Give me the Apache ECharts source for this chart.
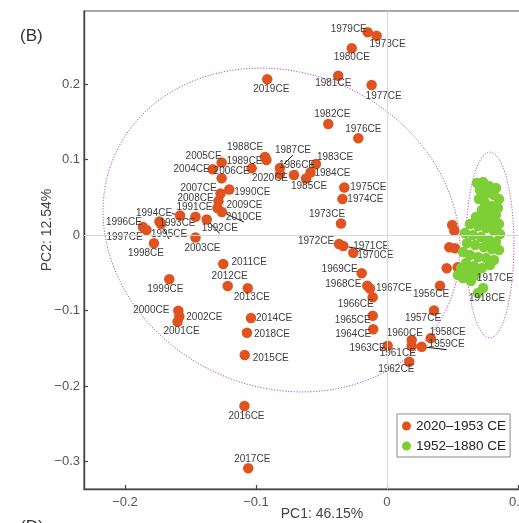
<!DOCTYPE html>
<html>
<head>
<meta charset="utf-8">
<script src="https://cdn.jsdelivr.net/npm/echarts@6/dist/echarts.min.js"></script>
<style>
  html, body { margin: 0; padding: 0; background: #fff; }
  #chart { width: 519px; height: 523px; }
</style>
</head>
<body>
<div id="chart"></div>
<script>
// PCA scores: PC1 vs PC2, annual samples 2020–1953 CE and 1952–1880 CE
const lateYears = ['2020CE','2019CE','2018CE','2017CE','2016CE','2015CE','2014CE','2013CE','2012CE','2011CE',
  '2010CE','2009CE','2008CE','2007CE','2006CE','2005CE','2004CE','2003CE','2002CE','2001CE',
  '2000CE','1999CE','1998CE','1997CE','1996CE','1995CE','1994CE','1993CE','1992CE','1991CE',
  '1990CE','1989CE','1988CE','1987CE','1986CE','1985CE','1984CE','1983CE','1982CE','1981CE',
  '1980CE','1979CE','1978CE','1977CE','1976CE','1975CE','1974CE','1973CE','1972CE','1971CE',
  '1970CE','1969CE','1968CE','1967CE','1966CE','1965CE','1964CE','1963CE','1962CE','1961CE',
  '1960CE','1959CE','1958CE','1957CE','1956CE','','','','','','',''];
const latePC1 = [-0.0817,-0.0914,-0.1069,-0.1059,-0.1088,-0.1086,-0.1038,-0.1063,-0.1216,-0.1250,
  -0.1260,-0.1294,-0.1286,-0.1271,-0.1033,-0.1262,-0.1331,-0.1462,-0.1585,-0.1599,
  -0.1593,-0.1662,-0.1779,-0.1836,-0.1863,-0.1725,-0.1580,-0.1737,-0.1376,-0.1462,
  -0.1204,-0.0920,-0.0931,-0.0817,-0.0710,-0.0618,-0.0584,-0.0542,-0.0448,-0.0372,
  -0.0269,-0.0147,-0.0079,-0.0117,-0.0219,-0.0326,-0.0340,-0.0351,-0.0366,-0.0334,
  -0.0257,-0.0193,-0.0150,-0.0130,-0.0109,-0.0109,-0.0105,0.0005,0.0170,0.0189,
  0.0189,0.0265,0.0334,0.0359,0.0405,-0.1262,0.0498,0.0514,0.0476,0.0519,0.0456,0.0540];
const latePC2 = [0.0808,0.2062,-0.1294,-0.3090,-0.2265,-0.1589,-0.1099,-0.0706,-0.0675,-0.0384,
  0.0305,0.0358,0.0450,0.0550,0.0883,0.0960,0.0870,-0.0033,-0.1079,-0.1148,
  -0.1003,-0.0587,-0.0110,0.0066,0.0106,0.0146,0.0258,0.0179,0.0205,0.0242,
  0.0603,0.0993,0.1033,0.0887,0.0795,0.0748,0.0828,0.0940,0.1470,0.2110,
  0.2473,0.2685,0.2640,0.1987,0.1281,0.0629,0.0477,0.0152,-0.0119,-0.0146,
  -0.0234,-0.0507,-0.0672,-0.0709,-0.0825,-0.1069,-0.1249,-0.1466,-0.1678,-0.1470,
  -0.1391,-0.1479,-0.1368,-0.1000,-0.0672,0.0751,0.0132,0.0060,-0.0163,-0.0176,-0.0441,-0.0428];

const earlyLabels = ['','','','','','','','','','','','','','','','','','','','',
  '','','','','','','','','','','','','','','','','','','','','','',
  '1917CE','','','','','','','1918CE'];
const earlyPC1 = [0.0687,0.0733,0.0779,0.0832,0.0710,0.0756,0.0817,0.0855,0.0702,0.0748,
  0.0802,0.0847,0.0725,0.0779,0.0832,0.0679,0.0740,0.0802,0.0855,0.0634,
  0.0695,0.0756,0.0817,0.0863,0.0595,0.0656,0.0718,0.0779,0.0832,0.0611,
  0.0672,0.0740,0.0802,0.0855,0.0580,0.0634,0.0695,0.0756,0.0817,0.0603,
  0.0664,0.0725,0.0786,0.0565,0.0618,0.0679,0.0580,0.0641,0.0542,0.0733,0.0695];
const earlyPC2 = [0.0689,0.0702,0.0649,0.0623,0.0596,0.0543,0.0530,0.0477,0.0477,0.0424,
  0.0384,0.0358,0.0331,0.0291,0.0265,0.0238,0.0212,0.0172,0.0146,0.0146,
  0.0119,0.0093,0.0053,0.0013,0.0026,0.0000,-0.0026,-0.0066,-0.0093,-0.0106,
  -0.0132,-0.0159,-0.0185,-0.0199,-0.0225,-0.0265,-0.0291,-0.0305,-0.0331,-0.0371,
  -0.0411,-0.0437,-0.0397,-0.0437,-0.0490,-0.0530,-0.0570,-0.0609,-0.0530,-0.0702,-0.0768];

// Group envelopes: centre PC1, centre PC2, semi-axis a (PC1 units), semi-axis b (PC2 units), tilt (deg, clockwise on screen)
const envelopes = [
  [-0.0805, 0.0066, 0.1396, 0.2079, 25],
  [0.0786, -0.0132, 0.0183, 0.1230, 0]
];

const seriesNames = ['2020\u20131953 CE', '1952\u20131880 CE'];
const xTicks = [-0.2, -0.1, 0, 0.1];
const yTicks = [-0.3, -0.2, -0.1, 0, 0.1, 0.2];

// Label placement (px offset of label centre from the dot)
const labelOffsets = {
  '1979CE': [-19, -3], '1978CE': [11, 9], '1980CE': [0, 9], '1981CE': [-5, 8], '1977CE': [12, 11],
  '2019CE': [4, 10], '1982CE': [4, -10], '1976CE': [5, -9], '1983CE': [19, -7], '1984CE': [22, 1],
  '1985CE': [3, 8], '1986CE': [3, -10], '1987CE': [13, -18], '2020CE': [-10, 4], '1988CE': [-20, -10],
  '1989CE': [-22, 1], '2005CE': [-18, -6], '2004CE': [-21, 0], '2006CE': [-20, 3], '1990CE': [23, 3],
  '2007CE': [-22, -5], '2008CE': [-23, -3], '2009CE': [27, -3], '2010CE': [22, 5], '1991CE': [-1, -9],
  '1992CE': [13, 9], '1994CE': [-26, -2], '1993CE': [18, 2], '1995CE': [8, 10], '1996CE': [-19, -5],
  '1997CE': [-22, 7], '1998CE': [-8, 10], '2003CE': [7, 11], '2011CE': [26, -2], '2012CE': [2, -10],
  '2013CE': [4, 9], '1999CE': [-4, 10], '2000CE': [-27, 0], '2002CE': [25, 1], '2001CE': [4, 10],
  '2014CE': [23, 0], '2018CE': [25, 2], '2015CE': [26, 3], '2016CE': [2, 10], '2017CE': [4, -9],
  '1975CE': [24, 0], '1974CE': [23, 0], '1973CE': [-14, -9], '1972CE': [-23, -3], '1971CE': [28, 0],
  '1970CE': [22, 3], '1969CE': [-22, -4], '1968CE': [-24, -1], '1967CE': [24, 0], '1966CE': [-17, 7],
  '1965CE': [-20, 5], '1964CE': [-20, 5], '1963CE': [-20, 3], '1960CE': [-7, -7], '1961CE': [-14, 7],
  '1962CE': [-13, 8], '1959CE': [25, -2], '1958CE': [17, -6], '1957CE': [-11, 8], '1956CE': [-9, 9],
  '1917CE': [5, 13], '1918CE': [4, 10]
};
const leaderLabels = ['1988CE', '1987CE', '1986CE', '2007CE', '2010CE', '1994CE', '1992CE', '1995CE', '1971CE', '1959CE'];

const ORANGE = '#e0531f';
const GREEN = '#7dcf35';
const ENVELOPE = '#b64ac8';
const FONT = 'Liberation Sans, Arial, sans-serif';

function pointItems(names, xs, ys) {
  return xs.map((x, i) => {
    const name = names[i];
    const item = { name: name, value: [x, ys[i]] };
    if (name) {
      item.label = { show: true, offset: labelOffsets[name] || [0, 10] };
      if (leaderLabels.includes(name)) {
        item.labelLine = { show: true, lineStyle: { color: '#111', width: 1 } };
      }
    }
    return item;
  });
}

const pointLabel = {
  show: false, position: 'inside', formatter: '{b}',
  fontSize: 10, color: '#3c3c3c', fontFamily: FONT
};

function renderEnvelope(params, api) {
  const c = api.coord([api.value(0), api.value(1)]);
  const s = api.size([api.value(2), api.value(3)]);
  const tilt = api.value(4) * Math.PI / 180;
  const pts = [];
  const n = 180;
  for (let i = 0; i <= n; i++) {
    const t = i / n * Math.PI * 2;
    const ex = s[0] * Math.cos(t), ey = s[1] * Math.sin(t);
    pts.push([c[0] + ex * Math.cos(tilt) - ey * Math.sin(tilt),
              c[1] + ex * Math.sin(tilt) + ey * Math.cos(tilt)]);
  }
  return {
    type: 'polyline', shape: { points: pts },
    style: { stroke: ENVELOPE, lineWidth: 1, fill: null, lineDash: [1.2, 1.6] }
  };
}

const tickFmt = v => (Math.abs(v) < 1e-9 ? '0' : v.toFixed(1).replace('-', '\u2212'));

const chart = echarts.init(document.getElementById('chart'), null, { renderer: 'canvas' });
chart.setOption({
  animation: false,
  backgroundColor: '#fff',
  textStyle: { fontFamily: FONT },
  grid: {
    left: 84, top: 11, width: 454, bottom: 34,
    outerBoundsMode: 'none', containLabel: false,
    show: true, borderColor: '#555', borderWidth: 1.2, backgroundColor: 'transparent'
  },
  xAxis: {
    type: 'value', min: -0.2313, max: 0.1153,
    axisLine: { show: true, onZero: false, lineStyle: { color: '#444', width: 1.4 } },
    axisTick: { show: true, inside: true, length: 4, customValues: xTicks, lineStyle: { color: '#444', width: 1.2 } },
    axisLabel: { show: true, customValues: xTicks, formatter: tickFmt, fontSize: 13, color: '#555', margin: 7, fontFamily: FONT },
    splitLine: { show: false }
  },
  yAxis: {
    type: 'value', min: -0.3364, max: 0.2967,
    axisLine: { show: true, onZero: false, lineStyle: { color: '#444', width: 1.4 } },
    axisTick: { show: true, inside: true, length: 4, customValues: yTicks, lineStyle: { color: '#444', width: 1.2 } },
    axisLabel: { show: true, customValues: yTicks, formatter: tickFmt, fontSize: 13, color: '#555', margin: 4, fontFamily: FONT },
    splitLine: { show: false }
  },
  legend: {
    orient: 'vertical', left: 397, top: 414,
    data: seriesNames,
    icon: 'circle', itemWidth: 9, itemHeight: 9, itemGap: 6,
    backgroundColor: '#fff', borderColor: '#8a8a8a', borderWidth: 1, padding: [5, 4, 4, 5],
    textStyle: { fontSize: 13.5, color: '#222', fontFamily: FONT, padding: [0, 0, 0, 0] }
  },
  graphic: [
    { type: 'text', left: 20, top: 28, style: { text: '(B)', fontSize: 17, fill: '#333', fontFamily: FONT } },
    { type: 'text', left: 20, top: 519, style: { text: '(D)', fontSize: 17, fill: '#333', fontFamily: FONT } },
    { type: 'text', x: 47, y: 230, rotation: Math.PI / 2,
      style: { text: 'PC2: 12.54%', fontSize: 14, fill: '#444', fontFamily: FONT, align: 'center', verticalAlign: 'middle' } },
    { type: 'text', x: 322, y: 514,
      style: { text: 'PC1: 46.15%', fontSize: 14, fill: '#444', fontFamily: FONT, align: 'center', verticalAlign: 'middle' } }
  ],
  series: [
    {
      type: 'custom', name: 'envelope', renderItem: renderEnvelope, silent: true, z: 1,
      encode: { x: 0, y: 1 }, data: envelopes,
      markLine: {
        silent: true, symbol: 'none', label: { show: false },
        lineStyle: { color: '#d8d8d8', type: 'solid', width: 1 },
        data: [{ xAxis: 0 }, { yAxis: 0 }]
      }
    },
    {
      type: 'scatter', name: seriesNames[0], z: 3,
      symbolSize: 10.5, itemStyle: { color: ORANGE, opacity: 1 },
      label: pointLabel,
      data: pointItems(lateYears, latePC1, latePC2)
    },
    {
      type: 'scatter', name: seriesNames[1], z: 4,
      symbolSize: 10.5, itemStyle: { color: GREEN, opacity: 1 },
      label: pointLabel,
      data: pointItems(earlyLabels, earlyPC1, earlyPC2)
    }
  ]
});
</script>
</body>
</html>
